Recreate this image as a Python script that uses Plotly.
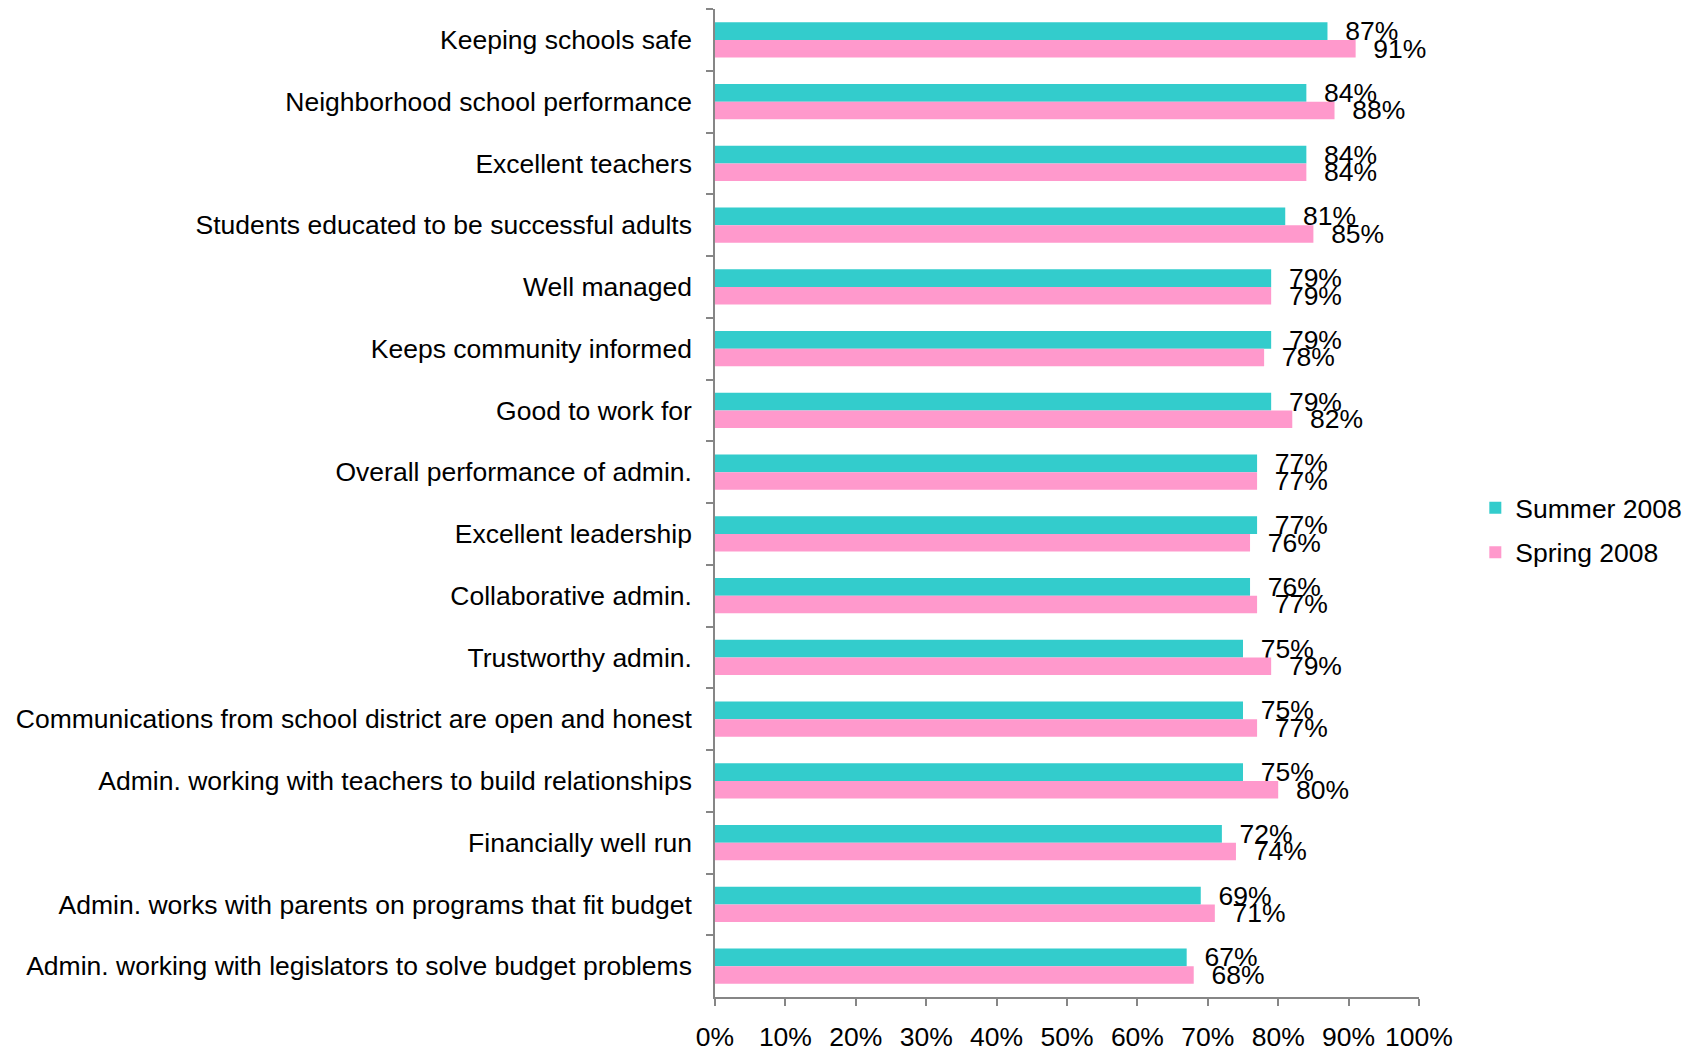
import plotly.graph_objects as go

categories = [
    "Keeping schools safe",
    "Neighborhood school performance",
    "Excellent teachers",
    "Students educated to be successful adults",
    "Well managed",
    "Keeps community informed",
    "Good to work for",
    "Overall performance of admin.",
    "Excellent leadership",
    "Collaborative admin.",
    "Trustworthy admin.",
    "Communications from school district are open and honest",
    "Admin. working with teachers to build relationships",
    "Financially well run",
    "Admin. works with parents on programs that fit budget",
    "Admin. working with legislators to solve budget problems",
]
summer_2008 = [87, 84, 84, 81, 79, 79, 79, 77, 77, 76, 75, 75, 75, 72, 69, 67]
spring_2008 = [91, 88, 84, 85, 79, 78, 82, 77, 76, 77, 79, 77, 80, 74, 71, 68]
x_ticks = list(range(0, 101, 10))

FONT = "Liberation Sans, Arial, sans-serif"
FS = 26.5

fig = go.Figure()
fig.add_trace(go.Bar(
    y=categories, x=summer_2008, orientation="h", name="Summer 2008",
    marker=dict(color="#33CCCC", line=dict(width=0)),
    text=[f"{v}%" for v in summer_2008], textposition="outside",
    texttemplate="  %{text}", textfont=dict(family=FONT, size=FS, color="#000"),
    constraintext="none", legendgroup="a", cliponaxis=False,
))
fig.add_trace(go.Bar(
    y=categories, x=spring_2008, orientation="h", name="Spring 2008",
    marker=dict(color="#FF99CC", line=dict(width=0)),
    text=[f"{v}%" for v in spring_2008], textposition="outside",
    texttemplate="  %{text}", textfont=dict(family=FONT, size=FS, color="#000"),
    constraintext="none", legendgroup="b", cliponaxis=False,
))

fig.update_layout(
    width=1702, height=1052,
    margin=dict(l=715, r=283, t=9, b=55, autoexpand=False),
    paper_bgcolor="white", plot_bgcolor="white",
    barmode="group", bargap=0.43, bargroupgap=0,
    font=dict(family=FONT, size=FS, color="#000"),
    legend=dict(x=1.080, y=0.4727, xanchor="left", yanchor="middle",
                font=dict(size=FS), tracegroupgap=7, itemwidth=30,
                bgcolor="rgba(0,0,0,0)"),
    showlegend=True,
)
fig.update_xaxes(
    range=[0, 100], tickvals=x_ticks, ticktext=[f"{t}%" for t in x_ticks],
    showgrid=False, zeroline=False, automargin=False,
    showline=True, linecolor="#868686", linewidth=1.5,
    ticks="outside", ticklen=7, tickcolor="#868686", tickwidth=1.5,
    ticklabelstandoff=8,
)
fig.update_yaxes(
    autorange="reversed", type="category", automargin=False,
    showgrid=False, showline=True, linecolor="#868686", linewidth=1.5,
    ticks="outside", ticklen=7, tickcolor="#868686", tickwidth=1.5,
    tickson="boundaries", ticklabelstandoff=16,
)

fig.write_html("out.html")
